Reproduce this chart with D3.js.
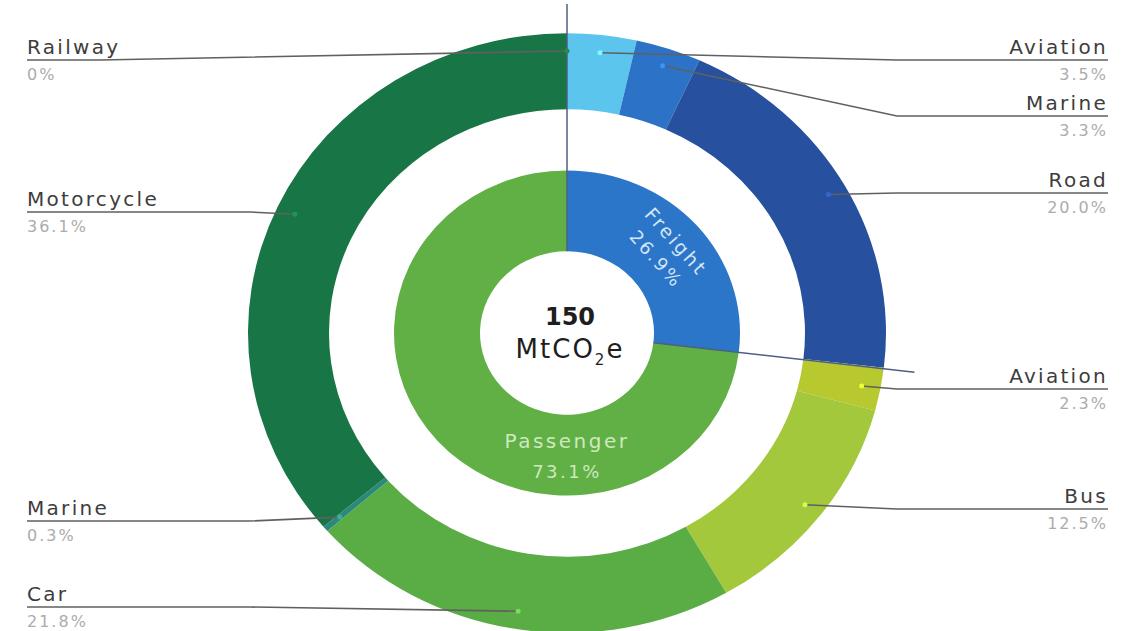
<!DOCTYPE html>
<html>
<head>
<meta charset="utf-8">
<script src="https://cdn.jsdelivr.net/npm/d3@7"></script>
<style>
  body { margin: 0; background: #fff; }
  svg { display: block; }
  text { font-family: "DejaVu Sans", sans-serif; }
</style>
</head>
<body>
<svg id="chart" width="1132" height="631"></svg>
<script>
// inner ring: segment share of transport emissions (%)
const innerNames = ['Freight', 'Passenger'];
const innerValues = [26.9, 73.1];
const innerColors = ['#2b76c9', '#60b045'];

// outer ring: modes, clockwise from 12 o'clock (%)
const outerNames = ['Aviation', 'Marine', 'Road', 'Aviation', 'Bus', 'Car', 'Marine', 'Motorcycle', 'Railway'];
const outerValues = [3.5, 3.3, 20.0, 2.3, 12.5, 21.8, 0.3, 36.1, 0];
const outerColors = ['#5cc5ee', '#2c73c8', '#27519f', '#b8c92f', '#a3c83b', '#5aad45', '#2a8a7a', '#187545', '#1d6e3a'];

const totalValue = '150';

// label layout (underline y and elbow x of each leader)
const lineY = [60, 116, 193, 389, 509, 607, 521, 212, 60];
const elbowX = [897, 897, 897, 897, 897, 250, 250, 250, 100];

const svg = d3.select('#chart');
const cx = 567, cy = 333, ky = 0.94;
const pt = (a, r) => [cx + r * Math.sin(a), cy - r * Math.cos(a) * ky];
const fmt = v => v === 0 ? '0%' : v.toFixed(1) + '%';

const pie = d3.pie().sort(null).value(d => d);
const inArcs = pie(innerValues);
const outArcs = pie(outerValues);

const ring = svg.append('g').attr('transform', `translate(${cx},${cy}) scale(1,${ky})`);

ring.selectAll('path.inner').data(inArcs).join('path')
  .attr('class', 'inner')
  .attr('d', d3.arc().innerRadius(87).outerRadius(173))
  .attr('fill', (d, i) => innerColors[i]);

ring.selectAll('path.outer').data(outArcs).join('path')
  .attr('class', 'outer')
  .attr('d', d3.arc().innerRadius(238).outerRadius(319))
  .attr('fill', (d, i) => outerColors[i]);

// radial separators at freight boundaries
svg.selectAll('line.sep').data(inArcs).join('line')
  .attr('class', 'sep')
  .each(function (d) {
    const a = pt(d.startAngle, 87), b = pt(d.startAngle, 350);
    d3.select(this).attr('x1', a[0]).attr('y1', a[1]).attr('x2', b[0]).attr('y2', b[1]);
  })
  .attr('stroke', '#4d5f84').attr('stroke-width', 1.5);

// leaders + labels for outer ring
const line = d3.line();
outArcs.forEach((d, i) => {
  const mid = (d.startAngle + d.endAngle) / 2;
  const right = mid < Math.PI;
  const p = pt(mid, 300);
  const endX = right ? 1108 : 27;
  svg.append('path')
    .attr('d', line([p, [elbowX[i], lineY[i]], [endX, lineY[i]]]))
    .attr('fill', 'none').attr('stroke', '#606060').attr('stroke-width', 1.6);
  svg.append('circle')
    .attr('cx', p[0]).attr('cy', p[1]).attr('r', 2.5)
    .attr('fill', d3.color(outerColors[i]).brighter(0.7));
  svg.append('text')
    .attr('x', right ? 1108 : 27).attr('y', lineY[i] - 6)
    .attr('text-anchor', right ? 'end' : 'start')
    .attr('font-size', 20).attr('letter-spacing', 2.3)
    .attr('fill', '#3d3d3d')
    .text(outerNames[i]);
  svg.append('text')
    .attr('x', right ? 1108 : 27).attr('y', lineY[i] + 20)
    .attr('text-anchor', right ? 'end' : 'start')
    .attr('font-size', 16).attr('letter-spacing', 2)
    .attr('fill', '#acacac')
    .text(fmt(outerValues[i]));
});

// inner labels
const fr = inArcs[0];
const frMid = (fr.startAngle + fr.endAngle) / 2;
const fc = pt(frMid, 133);
const fg = svg.append('g')
  .attr('transform', `translate(${fc[0]},${fc[1]}) rotate(${frMid * 180 / Math.PI})`)
  .attr('text-anchor', 'middle').attr('fill', '#d3e5f7').attr('letter-spacing', 2.5);
fg.append('text').attr('y', -6).attr('font-size', 19).text(innerNames[0]);
fg.append('text').attr('y', 20).attr('font-size', 18).text(fmt(innerValues[0]));

const pc = pt(Math.PI, 122);
const pg = svg.append('g').attr('text-anchor', 'middle').attr('fill', '#cfe8bf').attr('letter-spacing', 2.5);
pg.append('text').attr('x', pc[0]).attr('y', pc[1]).attr('font-size', 20).text(innerNames[1]);
pg.append('text').attr('x', pc[0]).attr('y', pc[1] + 30).attr('font-size', 18).text(fmt(innerValues[1]));

// centre total
svg.append('text')
  .attr('x', 570).attr('y', 325).attr('text-anchor', 'middle')
  .attr('font-size', 24).attr('font-weight', 'bold').attr('fill', '#1e1e1e')
  .text(totalValue);
const unit = svg.append('text')
  .attr('x', 570).attr('y', 358).attr('text-anchor', 'middle')
  .attr('font-size', 26).attr('letter-spacing', 2).attr('fill', '#1e1e1e');
unit.append('tspan').text('MtCO');
unit.append('tspan').attr('font-size', 15).attr('dy', 7).text('2');
unit.append('tspan').attr('dy', -7).text('e');
</script>
</body>
</html>
